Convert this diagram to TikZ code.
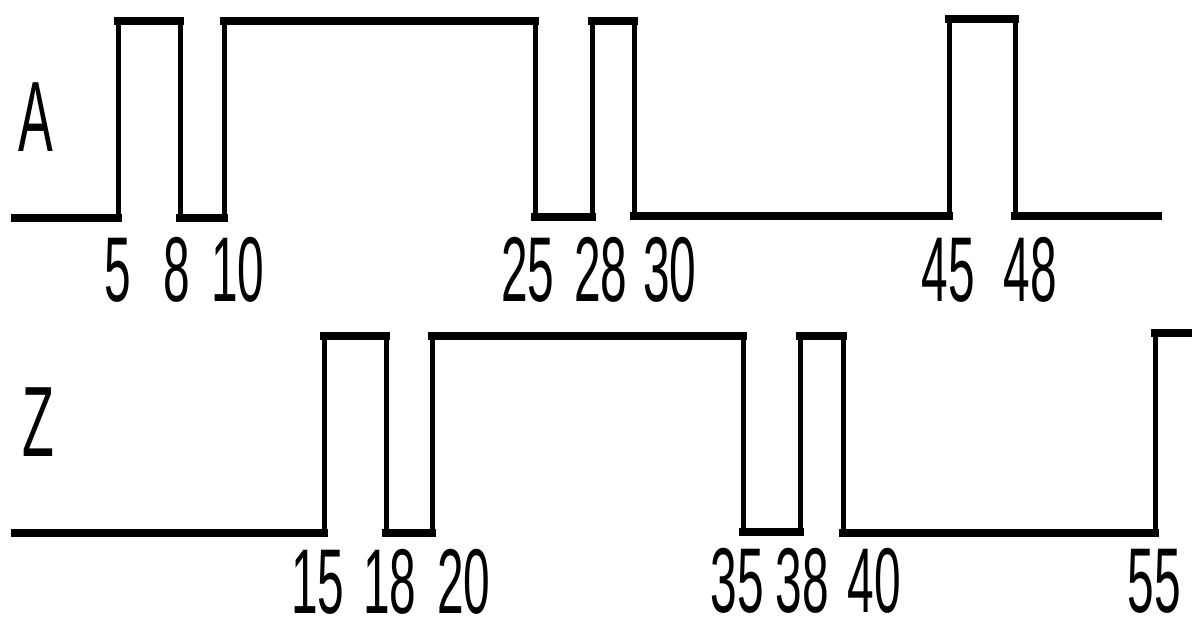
\documentclass[tikz,border=0pt]{standalone}
\usepackage{fontspec}
\usepackage{graphicx}
\setmainfont{Liberation Sans}
\newcommand\narrow[1]{\scalebox{0.52}[1]{#1}}
\tikzset{
  sig/.style={line width=5pt, line join=miter, line cap=butt},
  level/.style={line width=8pt, line cap=rect},
  num/.style={inner sep=0pt, anchor=center, font=\fontsize{92}{92}\selectfont},
  signame/.style={inner sep=0pt, anchor=center, font=\fontsize{100}{100}\selectfont},
}
\begin{document}
\begin{tikzpicture}[x=1pt, y=-1pt]
  \useasboundingbox (0,0) rectangle (1192,627);

  % signal A
  \draw[sig] (15,218) -- (118,218) -- (118,21) -- (180,21) -- (180,218)
    -- (224,218) -- (224,21) -- (535,21) -- (535,217) -- (592,217)
    -- (592,21) -- (634,21) -- (634,216) -- (949,216) -- (949,19)
    -- (1015,19) -- (1015,216) -- (1158,216);
  \foreach \a/\b/\y in {15/118/218, 118/180/21, 180/224/218, 224/535/21,
                        535/592/217, 592/634/21, 634/949/216, 949/1015/19,
                        1015/1158/216}
    \draw[level] (\a,\y) -- (\b,\y);

  % signal Z (A delayed by 10)
  \draw[sig] (15,533) -- (324,533) -- (324,336) -- (386,336) -- (386,533)
    -- (432,533) -- (432,336) -- (743,336) -- (743,532) -- (800,532)
    -- (800,336) -- (843,336) -- (843,533) -- (1155,533) -- (1155,333)
    -- (1192,333);
  \foreach \a/\b/\y in {15/324/533, 324/386/336, 386/432/533, 432/743/336,
                        743/800/532, 800/843/336, 843/1155/533, 1155/1192/333}
    \draw[level] (\a,\y) -- (\b,\y);

  % signal names
  \node[signame] (nA) at (36,117) {\narrow{A}};
  \node[signame] (nZ) at (38,422) {\narrow{Z}};

  % edge times of A
  \node[num] (a5)  at (118,270) {\narrow{5}};
  \node[num] (a8)  at (177,270) {\narrow{8}};
  \node[num] (a10) at (238,270) {\narrow{10}};
  \node[num] (a25) at (528,270) {\narrow{25}};
  \node[num] (a28) at (601,270) {\narrow{28}};
  \node[num] (a30) at (670,270) {\narrow{30}};
  \node[num] (a45) at (948,270) {\narrow{45}};
  \node[num] (a48) at (1030,270) {\narrow{48}};

  % edge times of Z
  \node[num] (z15) at (318,582) {\narrow{15}};
  \node[num] (z18) at (390,582) {\narrow{18}};
  \node[num] (z20) at (464,582) {\narrow{20}};
  \node[num] (z35) at (737,581) {\narrow{35}};
  \node[num] (z38) at (802,581) {\narrow{38}};
  \node[num] (z40) at (874,581) {\narrow{40}};
  \node[num] (z55) at (1154,581) {\narrow{55}};
\end{tikzpicture}
\end{document}
